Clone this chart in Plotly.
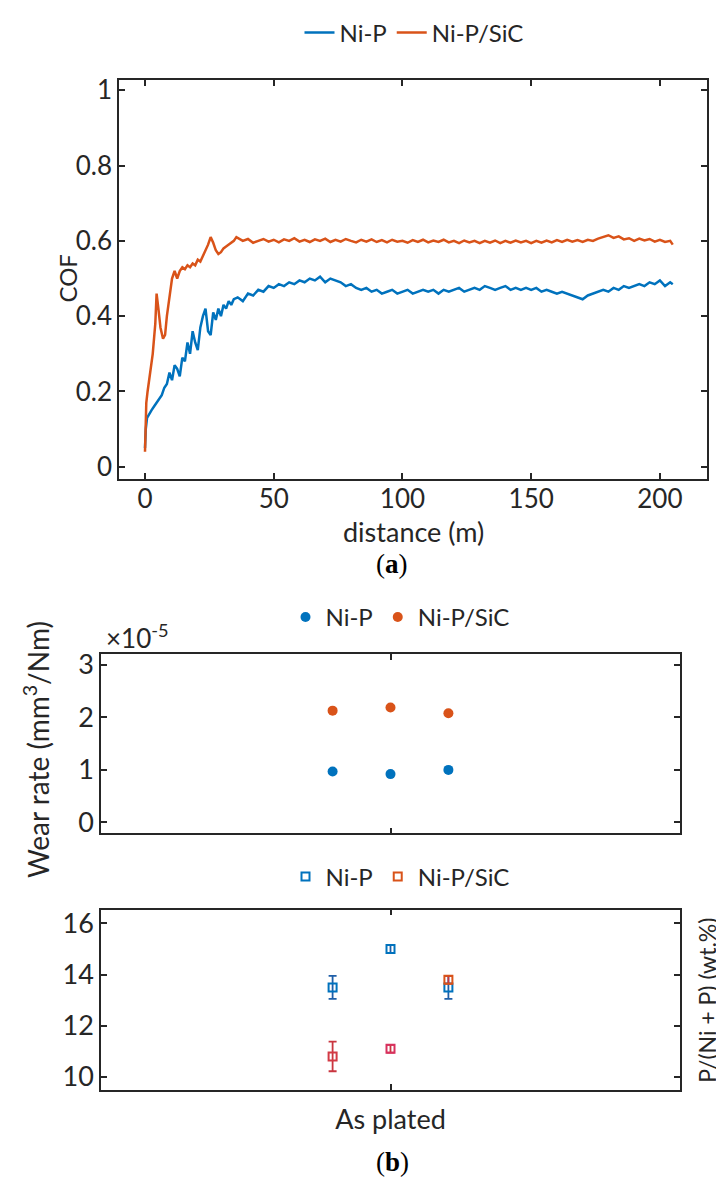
import plotly.graph_objects as go

# ---------------- data ----------------
# (a) coefficient of friction vs sliding distance
dist_nip = [0, 0.3, 0.8, 1.5, 2.5, 3.5, 4.5, 5.5, 6.5, 7.5, 8.5, 9.5, 10.5, 11.5, 12.5, 13.5,
            14.5, 15.5, 16.5, 17.5, 18.5, 19.5, 20.5, 21.5, 22.5, 23.5, 24.5, 25.5, 26.5, 27.5,
            28.5, 29.5, 30.5, 31.5, 32.5, 33.5, 34.5,
            36, 38, 40, 42, 44, 46, 48, 50, 52, 54, 56, 58, 60, 62, 64, 66, 68, 70, 72, 74, 76,
            78, 80, 82, 84, 86, 88, 90, 92, 94, 96, 98, 100, 102, 104, 106, 108, 110, 112, 114,
            116, 118, 120, 122, 124, 126, 128, 130, 132, 134, 136, 138, 140, 142, 144, 146, 148,
            150, 152, 154, 156, 158, 160, 162, 164, 166, 168, 170, 172, 174, 176, 178, 180, 182,
            184, 186, 188, 190, 192, 194, 196, 198, 200, 202, 204, 205]
cof_nip = [0.05, 0.10, 0.13, 0.14, 0.15, 0.16, 0.17, 0.18, 0.19, 0.21, 0.22, 0.25, 0.23, 0.27, 0.26, 0.24,
           0.29, 0.28, 0.33, 0.30, 0.36, 0.33, 0.31, 0.37, 0.40, 0.42, 0.36, 0.35, 0.41, 0.39,
           0.42, 0.40, 0.43, 0.42, 0.44, 0.43, 0.445,
           0.45, 0.44, 0.46, 0.455, 0.47, 0.465, 0.48, 0.475, 0.485, 0.48, 0.49, 0.485, 0.495, 0.49, 0.50, 0.495, 0.505, 0.49, 0.50, 0.495, 0.49,
           0.48, 0.485, 0.475, 0.47, 0.475, 0.465, 0.47, 0.46, 0.465, 0.47, 0.46, 0.465, 0.47, 0.46, 0.465, 0.47, 0.465, 0.47, 0.46,
           0.47, 0.465, 0.47, 0.475, 0.465, 0.47, 0.475, 0.47, 0.48, 0.475, 0.47, 0.475, 0.48, 0.47, 0.475, 0.47, 0.475,
           0.47, 0.475, 0.465, 0.47, 0.465, 0.46, 0.465, 0.46, 0.455, 0.45, 0.445, 0.455, 0.46, 0.465, 0.47, 0.465, 0.475,
           0.47, 0.48, 0.475, 0.48, 0.485, 0.48, 0.49, 0.485, 0.495, 0.48, 0.49, 0.485]

dist_sic = [0, 0.2, 0.5, 1, 2, 3, 4, 4.5, 5.2, 6, 7, 7.8, 8.5, 9.5, 10.5, 11.5, 12.5, 13.5, 14.5,
            15.5, 16.5, 17.5, 18.5, 19.5, 20.5, 21.5, 22.5, 23.5, 24.5, 25.5, 26.5, 27.5, 28.5,
            29.5, 30.5, 31.5, 32.5, 33.5, 34.5, 35.5,
            38, 40, 42, 44, 46, 48, 50, 52, 54, 56, 58, 60, 62, 64, 66, 68, 70, 72, 74, 76, 78,
            80, 82, 84, 86, 88, 90, 92, 94, 96, 98, 100, 102, 104, 106, 108, 110, 112, 114, 116,
            118, 120, 122, 124, 126, 128, 130, 132, 134, 136, 138, 140, 142, 144, 146, 148, 150,
            152, 154, 156, 158, 160, 162, 164, 166, 168, 170, 172, 174, 176, 178, 180, 182, 184,
            186, 188, 190, 192, 194, 196, 198, 200, 202, 204, 205]
cof_sic = [0.04, 0.12, 0.17, 0.20, 0.25, 0.30, 0.38, 0.46, 0.42, 0.37, 0.34, 0.35, 0.40, 0.45, 0.50, 0.52, 0.50, 0.52, 0.53,
           0.525, 0.535, 0.53, 0.54, 0.535, 0.55, 0.545, 0.56, 0.575, 0.59, 0.61, 0.595, 0.575, 0.565,
           0.57, 0.58, 0.585, 0.59, 0.595, 0.60, 0.61,
           0.60, 0.605, 0.595, 0.60, 0.605, 0.598, 0.603, 0.596, 0.604, 0.60, 0.607, 0.598, 0.603, 0.597, 0.604, 0.60, 0.606, 0.597, 0.603, 0.598, 0.605,
           0.60, 0.596, 0.603, 0.598, 0.604, 0.597, 0.602, 0.596, 0.603, 0.598, 0.60, 0.595, 0.602, 0.597, 0.603, 0.596, 0.601, 0.597, 0.603,
           0.596, 0.60, 0.594, 0.601, 0.596, 0.60, 0.594, 0.60, 0.595, 0.601, 0.594, 0.60, 0.595, 0.601, 0.596, 0.60, 0.594,
           0.60, 0.595, 0.601, 0.596, 0.602, 0.597, 0.603, 0.598, 0.602, 0.597, 0.603, 0.60, 0.606, 0.61, 0.615, 0.608, 0.612,
           0.604, 0.607, 0.60, 0.606, 0.601, 0.605, 0.598, 0.603, 0.597, 0.60, 0.59, 0.585]

# (b) wear rate (x1e-5 mm^3/Nm) and P content (wt.%)
positions = [0.8, 1.0, 1.2]
wear_nip = [0.97, 0.92, 1.00]
wear_sic = [2.13, 2.19, 2.08]
p_nip = [13.5, 15.0, 13.5]
p_nip_err = [0.45, 0.15, 0.45]
p_sic = [10.8, 11.1, 13.8]
p_sic_err = [0.58, 0.15, 0.15]
category_label = ["As plated"]

BLUE = "#0072BD"
ORANGE = "#D95319"
INK = "#262626"
FONT = "Lato"

W, H = 724, 1187

def px(x):
    return x / W

def py(y):
    return 1 - y / H

fig = go.Figure()

fig.add_trace(go.Scatter(x=dist_nip, y=cof_nip, mode="lines", name="Ni-P",
                         line=dict(color=BLUE, width=2.5), xaxis="x", yaxis="y", legend="legend"))
fig.add_trace(go.Scatter(x=dist_sic, y=cof_sic, mode="lines", name="Ni-P/SiC",
                         line=dict(color=ORANGE, width=2.5), xaxis="x", yaxis="y", legend="legend"))

fig.add_trace(go.Scatter(x=positions, y=wear_nip, mode="markers", name="Ni-P",
                         marker=dict(color=BLUE, size=10, symbol="circle"),
                         xaxis="x2", yaxis="y2", legend="legend2"))
fig.add_trace(go.Scatter(x=positions, y=wear_sic, mode="markers", name="Ni-P/SiC",
                         marker=dict(color=ORANGE, size=10, symbol="circle"),
                         xaxis="x2", yaxis="y2", legend="legend2"))

fig.add_trace(go.Scatter(x=positions, y=p_nip, mode="markers", name="Ni-P",
                         marker=dict(color=BLUE, size=8, symbol="square-open", line=dict(width=2)),
                         error_y=dict(type="data", array=p_nip_err, color="#1F5FA8", thickness=1.8, width=4),
                         xaxis="x3", yaxis="y3", legend="legend3"))
fig.add_trace(go.Scatter(x=positions, y=p_sic, mode="markers", name="Ni-P/SiC", showlegend=False,
                         marker=dict(color=["#D33A45", "#D8305E", ORANGE], size=8, symbol="square-open",
                                     line=dict(width=2)),
                         error_y=dict(type="data", array=p_sic_err, color="#C9353F", thickness=1.8, width=4),
                         xaxis="x3", yaxis="y3", legend="legend3"))
# legend entry for Ni-P/SiC (orange symbol as in the reference legend)
fig.add_trace(go.Scatter(x=[None], y=[None], mode="markers", name="Ni-P/SiC",
                         marker=dict(color=ORANGE, size=8, symbol="square-open", line=dict(width=2)),
                         xaxis="x3", yaxis="y3", legend="legend3"))

axis_common = dict(showline=True, linecolor=INK, linewidth=1.5, mirror="allticks",
                   ticks="inside", ticklen=6, tickwidth=1.5, tickcolor=INK,
                   showgrid=False, zeroline=False)

top_tick = dict(family=FONT, size=26, color=INK)
bot_tick = dict(family=FONT, size=27, color=INK)
legend_font = dict(family=FONT, size=24, color=INK)

fig.update_layout(
    width=W, height=H,
    margin=dict(l=0, r=0, t=0, b=0),
    paper_bgcolor="white", plot_bgcolor="white",
    font=dict(family=FONT, color=INK),
    xaxis=dict(domain=[px(111), px(699)], range=[-10.1, 218.3], tickvals=[0, 50, 100, 150, 200],
               anchor="y", ticklabelstandoff=-4, tickfont=top_tick, **axis_common),
    yaxis=dict(domain=[py(468), py(66)], range=[-0.0316, 1.0263],
               tickvals=[0, 0.2, 0.4, 0.6, 0.8, 1], ticktext=["0", "0.2", "0.4", "0.6", "0.8", "1"],
               anchor="x", tickfont=top_tick, **axis_common),
    xaxis2=dict(domain=[px(93), px(672)], range=[0, 2], tickvals=[1], showticklabels=False,
                anchor="y2", tickfont=bot_tick, **axis_common),
    yaxis2=dict(domain=[py(826), py(645)], range=[-0.21, 3.21], tickvals=[0, 1, 2, 3],
                anchor="x2", tickfont=bot_tick, **axis_common),
    xaxis3=dict(domain=[px(93), px(672)], range=[0, 2], tickvals=[1], ticktext=category_label,
                anchor="y3", ticklabelstandoff=5, tickfont=bot_tick, **axis_common),
    yaxis3=dict(domain=[py(1085), py(903)], range=[9.49, 16.54], tickvals=[10, 12, 14, 16],
                anchor="x3", tickfont=bot_tick, **axis_common),
    legend=dict(orientation="h", x=px(406), xanchor="center", y=py(18), yanchor="middle",
                font=legend_font, bgcolor="rgba(0,0,0,0)"),
    legend2=dict(orientation="h", x=px(392), xanchor="center", y=py(608), yanchor="middle",
                 font=legend_font, bgcolor="rgba(0,0,0,0)"),
    legend3=dict(orientation="h", x=px(392), xanchor="center", y=py(870), yanchor="middle",
                 font=legend_font, bgcolor="rgba(0,0,0,0)"),
    showlegend=True,
)

ann = [
    dict(text="COF", x=px(60), y=py(266), textangle=-90, font=dict(size=24)),
    dict(text="distance (m)", x=px(405), y=py(521), font=dict(size=27)),
    dict(text="(<b>a</b>)", x=px(384), y=py(554), font=dict(family="Liberation Serif", size=27, color="black")),
    dict(text="×10<sup>-5</sup>", x=px(129), y=py(627), font=dict(size=26)),
    dict(text="Wear rate (mm<sup>3</sup>/Nm)", x=px(28), y=py(742), textangle=-90, font=dict(size=28)),
    dict(text="P/(Ni + P) (wt.%)", x=px(699), y=py(995), textangle=-90, font=dict(size=23)),
    dict(text="(<b>b</b>)", x=px(384), y=py(1158), font=dict(family="Liberation Serif", size=27, color="black")),
]
for a in ann:
    f = dict(family=FONT, color=INK)
    f.update(a.pop("font"))
    fig.add_annotation(xref="paper", yref="paper", showarrow=False, xanchor="center", yanchor="middle",
                       font=f, **a)

fig.write_html("out.html")
